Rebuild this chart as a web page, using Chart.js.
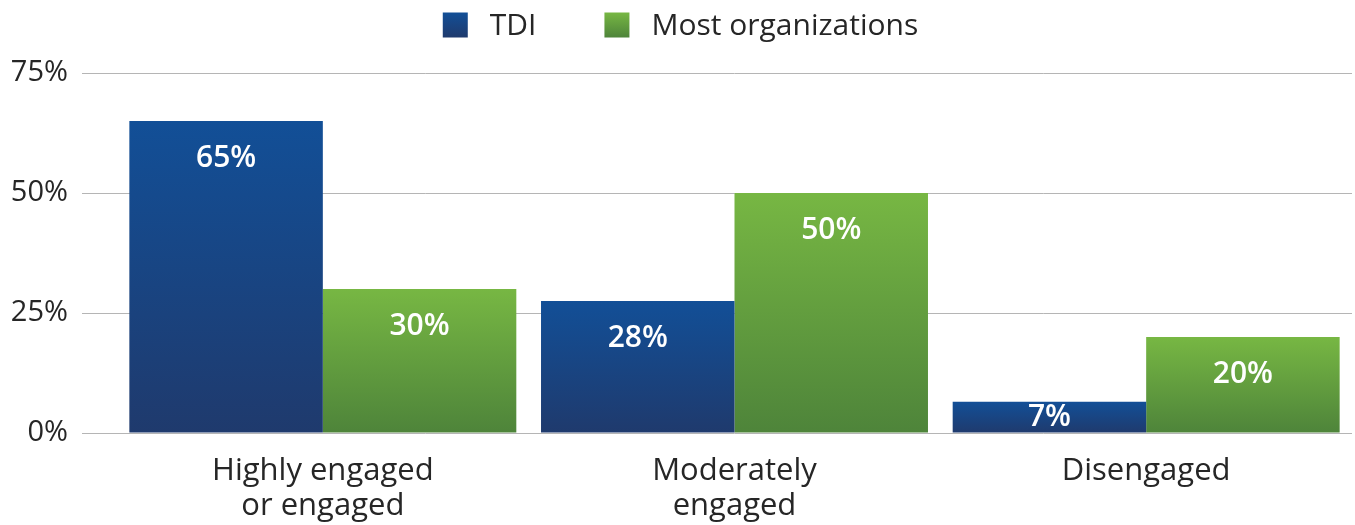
<!DOCTYPE html>
<html>
<head>
<meta charset="utf-8">
<script src="https://cdn.jsdelivr.net/npm/chart.js@4.4.0/dist/chart.umd.min.js"></script>
<style>
    html, body { margin: 0; padding: 0; background: #fff; }
</style>
</head>
<body>
<canvas id="engagementChart" width="1355" height="525"></canvas>
<script>
// ========================================
// DATA
// ========================================
const categories = [['Highly engaged', 'or engaged'], ['Moderately', 'engaged'], ['Disengaged']];
const seriesNames = ['TDI', 'Most organizations'];
const tdiValues = [65, 27.5, 6.5];
const mostOrgValues = [30, 50, 20];
const tdiLabels = ['65%', '28%', '7%'];
const mostOrgLabels = ['30%', '50%', '20%'];
const yTickValues = [0, 25, 50, 75];

// ========================================
// STYLE
// ========================================
const FONT = '"Open Sans", "Noto Sans", sans-serif';
const TEXT_COLOR = '#262626';
const GRID_COLOR = '#b5b5b5';
const BLUE = ['#124f97', '#1f3a6d'];
const GREEN = ['#77b743', '#4e843a'];

// vertical gradient from the top of each bar down to its base
function barGradient(colors) {
    return function (context) {
        const chart = context.chart;
        const yScale = chart.scales.y;
        if (!chart.chartArea || !yScale || context.type !== 'data') return colors[1];
        const top = yScale.getPixelForValue(context.raw);
        const bottom = yScale.getPixelForValue(0);
        if (!isFinite(top) || top === bottom) return colors[0];
        const g = chart.ctx.createLinearGradient(0, top, 0, bottom);
        g.addColorStop(0, colors[0]);
        g.addColorStop(1, colors[1]);
        return g;
    };
}

// white value labels inside the bars
const barLabelPlugin = {
    id: 'barLabels',
    afterDatasetsDraw(chart) {
        const ctx = chart.ctx;
        ctx.save();
        ctx.font = '600 30px ' + FONT;
        ctx.fillStyle = '#ffffff';
        ctx.textAlign = 'center';
        ctx.textBaseline = 'middle';
        chart.data.datasets.forEach(function (ds, i) {
            const meta = chart.getDatasetMeta(i);
            meta.data.forEach(function (bar, j) {
                const y = Math.min(bar.y + 37, bar.base - 15);
                ctx.fillText(ds.valueLabels[j], bar.x, y);
            });
        });
        ctx.restore();
    }
};

// legend on top: gradient squares + names
const topLegendPlugin = {
    id: 'topLegend',
    afterDraw(chart) {
        const ctx = chart.ctx;
        const box = 25, textGap = 22, itemGap = 68, cy = 25;
        ctx.save();
        ctx.font = '30px ' + FONT;
        ctx.textBaseline = 'middle';
        ctx.textAlign = 'left';
        const items = chart.data.datasets.map(function (ds) {
            return { ds: ds, w: ctx.measureText(ds.label).width };
        });
        let total = 0;
        items.forEach(function (it, i) {
            total += box + textGap + it.w + (i > 0 ? itemGap : 0);
        });
        let x = chart.width / 2 - total / 2 + 3;
        items.forEach(function (it) {
            const g = ctx.createLinearGradient(0, cy - box / 2, 0, cy + box / 2);
            g.addColorStop(0, it.ds.gradientColors[0]);
            g.addColorStop(1, it.ds.gradientColors[1]);
            ctx.fillStyle = g;
            ctx.fillRect(x, cy - box / 2, box, box);
            ctx.fillStyle = TEXT_COLOR;
            ctx.fillText(it.ds.label, x + box + textGap, cy + 1);
            x += box + textGap + it.w + itemGap;
        });
        ctx.restore();
    }
};

// ========================================
// CHART
// ========================================
new Chart(document.getElementById('engagementChart'), {
    type: 'bar',
    data: {
        labels: categories,
        datasets: [{
            label: seriesNames[0],
            data: tdiValues,
            valueLabels: tdiLabels,
            gradientColors: BLUE,
            backgroundColor: barGradient(BLUE),
            categoryPercentage: 0.94,
            barPercentage: 1.0
        }, {
            label: seriesNames[1],
            data: mostOrgValues,
            valueLabels: mostOrgLabels,
            gradientColors: GREEN,
            backgroundColor: barGradient(GREEN),
            categoryPercentage: 0.94,
            barPercentage: 1.0
        }]
    },
    options: {
        responsive: false,
        animation: false,
        layout: { padding: { top: 73, right: 3, left: 0, bottom: 0 } },
        plugins: {
            legend: { display: false },
            tooltip: { enabled: false }
        },
        scales: {
            x: {
                grid: { display: false },
                border: { display: false },
                ticks: {
                    color: TEXT_COLOR,
                    padding: 13,
                    maxRotation: 0,
                    font: { family: FONT, size: 31, lineHeight: 1.13 }
                },
                afterFit: function (scale) { scale.height = 92; }
            },
            y: {
                min: 0,
                max: 75,
                afterBuildTicks: function (scale) {
                    scale.ticks = yTickValues.map(function (v) { return { value: v }; });
                },
                grid: {
                    color: GRID_COLOR,
                    tickColor: GRID_COLOR,
                    tickLength: 35,
                    lineWidth: 1
                },
                border: { display: false },
                ticks: {
                    color: TEXT_COLOR,
                    padding: 14,
                    font: { family: FONT, size: 29 },
                    callback: function (value) { return value + '%'; }
                },
                afterFit: function (scale) { scale.width = 117; }
            }
        }
    },
    plugins: [barLabelPlugin, topLegendPlugin]
});
</script>
</body>
</html>
